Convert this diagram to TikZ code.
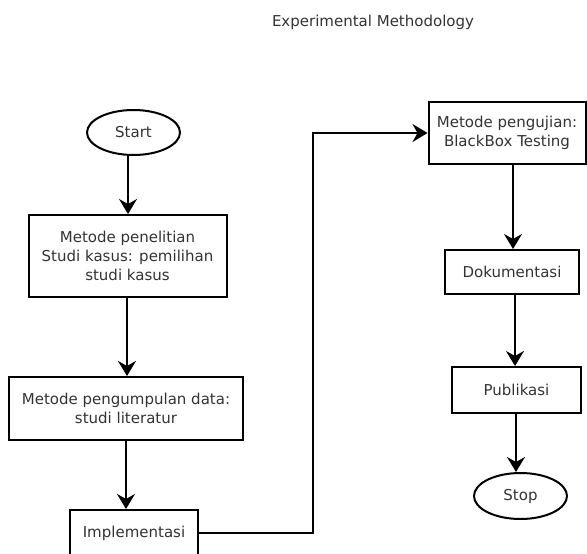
\documentclass[tikz,border=0pt]{standalone}
\usepackage{fontspec}
\setmainfont{DejaVu Sans}
\usetikzlibrary{arrows.meta,shapes.geometric}
\begin{document}
\begin{tikzpicture}[x=1pt,y=-1pt,
  txt/.style={text=black!80,font=\fontsize{15}{19}\selectfont,align=center,inner sep=0pt},
  stepbox/.style={txt,draw=black,line width=2pt,rectangle},
  term/.style={txt,draw=black,line width=2pt,ellipse},
  conn/.style={line width=2pt,-{Stealth[length=15pt,width=18pt,inset=5pt]}}]
\useasboundingbox (0,0) rectangle (587,554);
\node[txt] (title) at (373,22) {Experimental Methodology};
\node[term,minimum width=93pt,minimum height=45pt] (start) at (133.5,132.5) {Start};
\node[stepbox,minimum width=198pt,minimum height=82pt] (b1) at (127.5,256) {Metode penelitian\\Studi kasus: pemilihan\\studi kasus};
\node[stepbox,minimum width=234pt,minimum height=63pt] (b2) at (126,408.5) {Metode pengumpulan data:\\studi literatur};
\node[stepbox,minimum width=128pt,minimum height=46pt] (imp) at (134,533) {Implementasi};
\node[stepbox,minimum width=157pt,minimum height=62pt] (uji) at (507,133) {Metode pengujian:\\BlackBox Testing};
\node[stepbox,minimum width=134pt,minimum height=44pt] (dok) at (512,272) {Dokumentasi};
\node[stepbox,minimum width=129pt,minimum height=46pt] (pub) at (516.5,390) {Publikasi};
\node[term,minimum width=93pt,minimum height=46pt] (stop) at (520.5,496) {Stop};
\coordinate (c1) at (313,533);
\coordinate (c2) at (313,133);
\draw[conn] (start.south -| 128,0) -- (b1.north -| 128,0);
\draw[conn] (b1.south -| 127,0) -- (b2.north -| 127,0);
\draw[conn] (b2.south -| 126,0) -- (imp.north -| 126,0);
\draw[conn] (imp.east) -- (c1) -- (c2) -- (uji.west);
\draw[conn] (uji.south -| 513,0) -- (dok.north -| 513,0);
\draw[conn] (dok.south -| 515,0) -- (pub.north -| 515,0);
\draw[conn] (pub.south -| 516,0) -- (stop.north -| 516,0);
\end{tikzpicture}
\end{document}
